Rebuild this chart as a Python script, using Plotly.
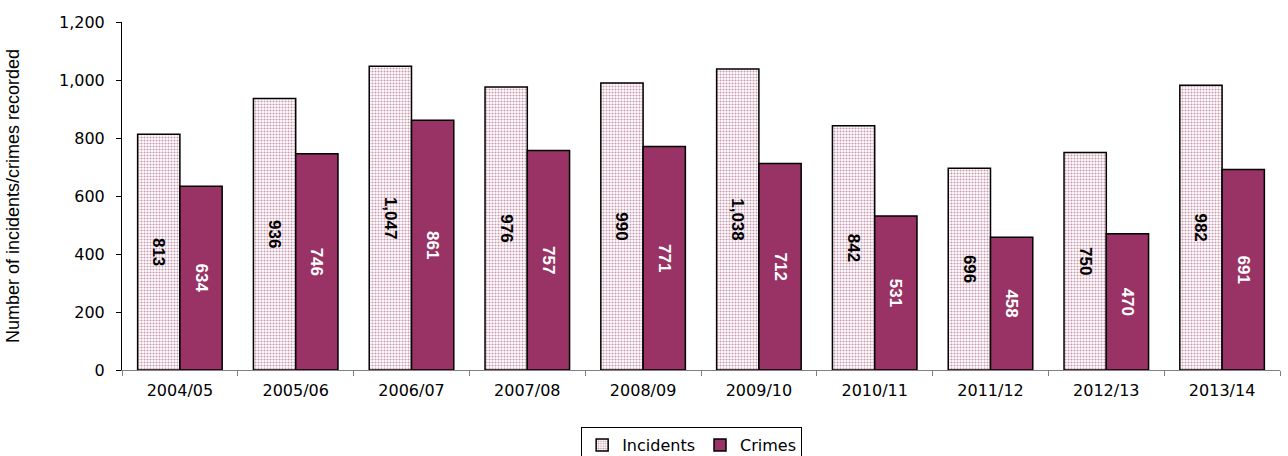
import plotly.graph_objects as go

years = ["2004/05", "2005/06", "2006/07", "2007/08", "2008/09",
         "2009/10", "2010/11", "2011/12", "2012/13", "2013/14"]
incidents = [813, 936, 1047, 976, 990, 1038, 842, 696, 750, 982]
crimes = [634, 746, 861, 757, 771, 712, 531, 458, 470, 691]

plum = "#993366"
wide_font = "DejaVu Sans, Verdana, sans-serif"
label_font = "Liberation Sans, Arial, sans-serif"

fig = go.Figure()
fig.add_trace(go.Bar(
    name="Incidents", x=years, y=incidents,
    marker=dict(
        color="white",
        line=dict(color="black", width=1.5),
        pattern=dict(shape=".", fgcolor=plum, bgcolor="white",
                     size=3, solidity=0.4, fillmode="overlay"),
    ),
    text=[f"{v:,}" for v in incidents], textposition="inside",
    insidetextanchor="middle", textangle=90,
    textfont=dict(family=label_font, size=17, color="black", weight="bold"),
))
fig.add_trace(go.Bar(
    name="Crimes", x=years, y=crimes,
    marker=dict(color=plum, line=dict(color="black", width=1.5)),
    text=[f"{v:,}" for v in crimes], textposition="inside",
    insidetextanchor="middle", textangle=90,
    textfont=dict(family=label_font, size=17, color="white", weight="bold"),
))

fig.update_layout(
    width=1288, height=456,
    margin=dict(l=122, r=8, t=22, b=86),
    paper_bgcolor="white", plot_bgcolor="white",
    barmode="group", bargap=0.27, bargroupgap=0,
    font=dict(family=wide_font, size=16, color="black"),
    showlegend=True,
    legend=dict(orientation="h", xref="container", yref="container",
                x=0.537, xanchor="center", y=1 - 427 / 456, yanchor="top",
                bordercolor="black", borderwidth=1,
                font=dict(family=wide_font, size=16), tracegroupgap=0),
)
fig.update_traces(cliponaxis=False, constraintext="none")
fig.update_xaxes(
    showline=True, linecolor="#808080", linewidth=1,
    ticks="outside", tickson="boundaries", ticklen=5, tickcolor="#808080",
    showgrid=False, tickfont=dict(family=wide_font, size=16),
    ticklabelstandoff=6,
)
fig.update_yaxes(
    range=[0, 1200], dtick=200, tickformat=",",
    showline=True, linecolor="black", linewidth=1,
    ticks="outside", ticklen=5, tickcolor="black",
    showgrid=False, zeroline=False,
    tickfont=dict(family=wide_font, size=16), ticklabelstandoff=8,
    title=dict(text="Number of incidents/crimes recorded",
               font=dict(family=label_font, size=18), standoff=34),
)

fig.write_html("out.html")
